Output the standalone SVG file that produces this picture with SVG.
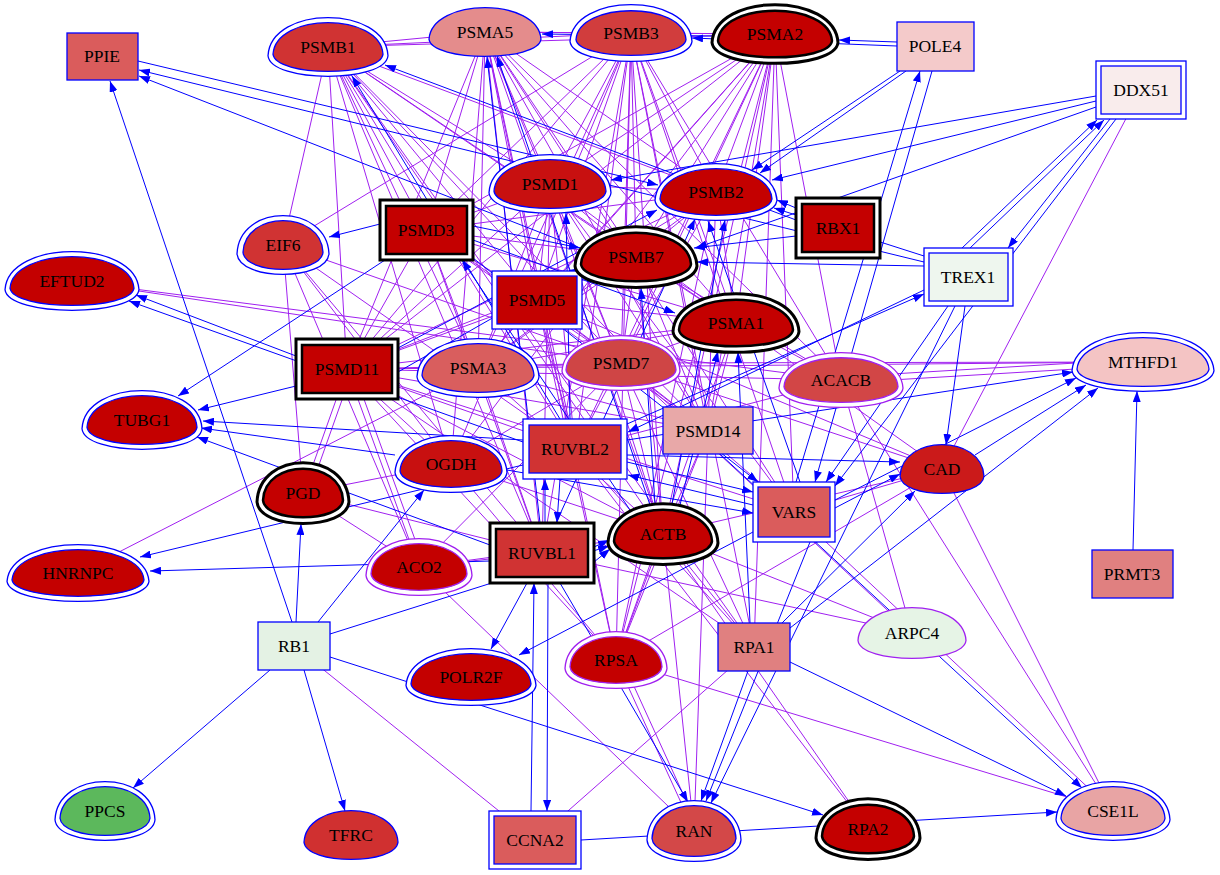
<svg xmlns="http://www.w3.org/2000/svg" xmlns:xlink="http://www.w3.org/1999/xlink" width="1220" height="875" viewBox="0 0 1220 875">
<style>
.e{stroke:#a020f0;stroke-width:1;fill:none}
.a{stroke:#0000ff;stroke-width:1;fill:none;marker-end:url(#arr)}
.ob{fill:#fff;stroke:#0000ff;stroke-width:1.3}
.ib{stroke:#0000ff;stroke-width:1.3}
.ok{fill:#fff;stroke:#000;stroke-width:3}
.ik{stroke:#000;stroke-width:2.5}
.op{fill:#fff;stroke:#a020f0;stroke-width:1.3}
.ip{stroke:#a020f0;stroke-width:1.3}
text{font-family:"Liberation Serif","Times New Roman",serif;font-size:17.5px;text-anchor:middle;fill:#000}
</style>
<defs>
<path id="egg" vector-effect="non-scaling-stroke" d="M-1,0.3C-0.95,-1.45 0.95,-1.45 1,0.3C0.95,1.25 -0.95,1.25 -1,0.3Z"/>
<marker id="arr" viewBox="0 0 11 8" refX="11" refY="4" markerWidth="11" markerHeight="8" markerUnits="userSpaceOnUse" orient="auto"><path d="M0,0L11,4L0,8Z" fill="#0000ff"/></marker>
</defs>
<rect width="1220" height="875" fill="#fff"/>
<g id="edges">
<path class="e" d="M736 323L775 34M736 323L478 368M736 323L485 32M736 323L328 47M736 323L716 192M736 323L631 33M736 323L636 257M736 323L550 184M736 323L426 230M736 323L537 300M736 323L621 363M736 323L347 369M736 323L708 431"/>
<path class="e" d="M775 34L478 368M775 34L485 32M775 34L328 47M775 34L716 192M775 34L631 33M775 34L636 257M775 34L550 184M775 34L426 230M775 34L537 300M775 34L621 363M775 34L347 369M775 34L708 431"/>
<path class="e" d="M478 368L485 32M478 368L328 47M478 368L716 192M478 368L631 33M478 368L636 257M478 368L550 184M478 368L426 230M478 368L537 300M478 368L621 363M478 368L347 369M478 368L708 431"/>
<path class="e" d="M485 32L328 47M485 32L716 192M485 32L631 33M485 32L636 257M485 32L550 184M485 32L426 230M485 32L537 300M485 32L621 363M485 32L347 369M485 32L708 431"/>
<path class="e" d="M328 47L716 192M328 47L631 33M328 47L636 257M328 47L550 184M328 47L426 230M328 47L537 300M328 47L621 363M328 47L347 369M328 47L708 431"/>
<path class="e" d="M716 192L631 33M716 192L636 257M716 192L550 184M716 192L426 230M716 192L537 300M716 192L621 363M716 192L347 369M716 192L708 431"/>
<path class="e" d="M631 33L636 257M631 33L550 184M631 33L426 230M631 33L537 300M631 33L621 363M631 33L347 369M631 33L708 431"/>
<path class="e" d="M636 257L550 184M636 257L426 230M636 257L537 300M636 257L621 363M636 257L347 369M636 257L708 431"/>
<path class="e" d="M550 184L426 230M550 184L537 300M550 184L621 363M550 184L347 369M550 184L708 431"/>
<path class="e" d="M426 230L537 300M426 230L621 363M426 230L347 369M426 230L708 431M537 300L621 363M537 300L347 369M537 300L708 431M621 363L347 369M621 363L708 431M347 369L708 431"/>
<path class="e" d="M283 245L328 47M283 245L631 33M283 245L303 493M283 245L451 464M283 245L419 567M283 245L542 553M283 245L575 449M283 245L621 363"/>
<path class="e" d="M72 281L621 363M72 281L841 380M78 573L478 368"/>
<path class="e" d="M303 493L347 369M309 493L353 369M303 493L451 464M303 493L419 567M303 493L542 553"/>
<path class="e" d="M451 464L485 32M451 464L328 47M451 464L631 33M451 464L775 34M451 464L347 369M451 464L621 363M451 464L663 534M451 464L616 660"/>
<path class="e" d="M419 567L347 369M425 567L353 369M419 567L542 553M419 567L663 534M419 567L694 831M419 567L621 363"/>
<path class="e" d="M841 380L631 33M841 380L775 34M841 380L485 32M841 380L347 369M841 380L736 323M841 380L1113 811M841 380L912 633M841 377L1143 359M841 383L1143 365M841 380L636 257M841 380L575 449"/>
<path class="e" d="M942 469L736 323M942 469L663 534M942 469L616 660M942 469L794 512M942 469L621 363M942 469L1141 90M942 469L1113 811M942 469L537 300"/>
<path class="e" d="M912 633L663 534M912 633L542 553M912 633L621 363"/>
<path class="e" d="M616 660L694 831M622 660L700 831M694 831L708 431M694 831L663 534M868 829L663 534M868 829L575 449M1113 811L616 660M1113 811L794 512M535 840L294 646M535 840L754 647"/>
<path class="e" d="M616 660L775 34M616 660L631 33M616 660L485 32M616 660L347 369M616 660L663 534M616 660L708 431M616 660L736 323M616 660L716 192M616 660L537 300"/>
<path class="e" d="M754 647L631 33M754 647L775 34M754 647L621 363M754 647L575 449M754 647L663 534M754 647L328 47M754 647L347 369"/>
<path class="e" d="M663 534L631 33M663 534L775 34M663 534L328 47M663 534L485 32M663 534L708 431M663 534L550 184M663 534L621 363M663 534L347 369M663 534L478 368M663 534L636 257"/>
<path class="e" d="M794 512L775 34M794 512L631 33M794 512L621 363M794 512L485 32M794 512L550 184M794 512L347 369"/>
<path class="e" d="M575 449L485 32M575 449L631 33M575 449L328 47M575 449L775 34M575 449L550 184M575 449L537 300M575 449L347 369M575 449L621 363"/>
<path class="e" d="M542 553L328 47M542 553L485 32M542 553L478 368M542 553L426 230M542 553L550 184M542 553L631 33M1143 362L347 369M1143 362L621 363"/>
<line class="a" x1="292" y1="622" x2="110" y2="81"/>
<line class="a" x1="924" y1="262" x2="139" y2="70"/>
<line class="a" x1="580" y1="248" x2="139" y2="76"/>
<line class="a" x1="138" y1="61" x2="658" y2="185"/>
<line class="a" x1="897" y1="42" x2="839" y2="40"/>
<line class="a" x1="897" y1="46" x2="692" y2="38"/>
<line class="a" x1="712" y1="36" x2="542" y2="34"/>
<line class="a" x1="900" y1="71" x2="752" y2="170"/>
<line class="a" x1="906" y1="71" x2="760" y2="173"/>
<line class="a" x1="1096" y1="101" x2="772" y2="180"/>
<line class="a" x1="1096" y1="96" x2="611" y2="180"/>
<line class="a" x1="1096" y1="107" x2="696" y2="248"/>
<line class="a" x1="962" y1="248" x2="1097" y2="120"/>
<line class="a" x1="970" y1="248" x2="1104" y2="120"/>
<line class="a" x1="1110" y1="119" x2="1008" y2="248"/>
<line class="a" x1="1116" y1="119" x2="835" y2="486"/>
<line class="a" x1="948" y1="306" x2="826" y2="482"/>
<line class="a" x1="796" y1="482" x2="920" y2="71"/>
<line class="a" x1="932" y1="71" x2="815" y2="482"/>
<line class="a" x1="924" y1="266" x2="697" y2="262"/>
<line class="a" x1="796" y1="236" x2="694" y2="248"/>
<line class="a" x1="924" y1="256" x2="774" y2="208"/>
<line class="a" x1="796" y1="208" x2="777" y2="200"/>
<line class="a" x1="924" y1="290" x2="628" y2="432"/>
<line class="a" x1="627" y1="424" x2="924" y2="294"/>
<line class="a" x1="965" y1="306" x2="946" y2="445"/>
<line class="a" x1="955" y1="306" x2="711" y2="803"/>
<line class="a" x1="810" y1="542" x2="706" y2="801"/>
<line class="a" x1="748" y1="671" x2="701" y2="801"/>
<line class="a" x1="800" y1="482" x2="708" y2="221"/>
<line class="a" x1="556" y1="523" x2="695" y2="219"/>
<line class="a" x1="672" y1="504" x2="725" y2="220"/>
<line class="a" x1="398" y1="348" x2="657" y2="210"/>
<line class="a" x1="560" y1="419" x2="352" y2="76"/>
<line class="a" x1="796" y1="220" x2="385" y2="65"/>
<line class="a" x1="380" y1="224" x2="329" y2="237"/>
<line class="a" x1="385" y1="260" x2="178" y2="396"/>
<line class="a" x1="296" y1="386" x2="198" y2="410"/>
<line class="a" x1="523" y1="440" x2="203" y2="421"/>
<line class="a" x1="395" y1="455" x2="201" y2="428"/>
<line class="a" x1="490" y1="545" x2="197" y2="437"/>
<line class="a" x1="296" y1="356" x2="136" y2="295"/>
<line class="a" x1="523" y1="442" x2="129" y2="301"/>
<line class="a" x1="490" y1="561" x2="150" y2="571"/>
<line class="a" x1="523" y1="465" x2="140" y2="557"/>
<line class="a" x1="296" y1="622" x2="301" y2="524"/>
<line class="a" x1="318" y1="622" x2="424" y2="490"/>
<line class="a" x1="270" y1="670" x2="133" y2="788"/>
<line class="a" x1="304" y1="670" x2="345" y2="811"/>
<line class="a" x1="330" y1="634" x2="609" y2="546"/>
<line class="a" x1="330" y1="657" x2="823" y2="815"/>
<line class="a" x1="527" y1="583" x2="491" y2="649"/>
<line class="a" x1="753" y1="532" x2="519" y2="655"/>
<line class="a" x1="548" y1="583" x2="547" y2="811"/>
<line class="a" x1="531" y1="811" x2="534" y2="583"/>
<line class="a" x1="545" y1="523" x2="545" y2="479"/>
<line class="a" x1="560" y1="479" x2="557" y2="523"/>
<line class="a" x1="594" y1="547" x2="609" y2="540"/>
<line class="a" x1="594" y1="562" x2="610" y2="549"/>
<line class="a" x1="581" y1="840" x2="1057" y2="812"/>
<line class="a" x1="790" y1="662" x2="1066" y2="796"/>
<line class="a" x1="720" y1="454" x2="1082" y2="788"/>
<line class="a" x1="782" y1="623" x2="915" y2="491"/>
<line class="a" x1="790" y1="628" x2="1098" y2="388"/>
<line class="a" x1="1133" y1="550" x2="1137" y2="391"/>
<line class="a" x1="975" y1="455" x2="1086" y2="385"/>
<line class="a" x1="627" y1="440" x2="1073" y2="372"/>
<line class="a" x1="835" y1="500" x2="1076" y2="378"/>
<line class="a" x1="627" y1="455" x2="900" y2="462"/>
<line class="a" x1="835" y1="508" x2="900" y2="474"/>
<line class="a" x1="627" y1="462" x2="753" y2="492"/>
<line class="a" x1="507" y1="470" x2="753" y2="513"/>
<line class="a" x1="473" y1="258" x2="758" y2="482"/>
<line class="a" x1="570" y1="419" x2="566" y2="213"/>
<line class="a" x1="540" y1="523" x2="487" y2="57"/>
<line class="a" x1="650" y1="505" x2="497" y2="56"/>
<line class="a" x1="680" y1="505" x2="718" y2="351"/>
<line class="a" x1="750" y1="623" x2="738" y2="352"/>
<line class="a" x1="473" y1="240" x2="675" y2="313"/>
<line class="a" x1="630" y1="510" x2="462" y2="260"/>
<line class="a" x1="398" y1="372" x2="580" y2="268"/>
<line class="a" x1="473" y1="226" x2="580" y2="248"/>
<line class="a" x1="655" y1="504" x2="641" y2="288"/>
<line class="a" x1="753" y1="505" x2="628" y2="475"/>
<line class="a" x1="560" y1="583" x2="688" y2="802"/>
</g>
<g id="n-PPIE"><rect class="ib" fill="#da5c5c" x="67" y="33" width="71" height="47"/><text x="102" y="62">PPIE</text></g>
<g id="n-POLE4"><rect class="ib" fill="#f4caca" x="897" y="22" width="77" height="49"/><text x="935" y="52">POLE4</text></g>
<g id="n-PSMD14"><rect class="ib" fill="#e8a8a8" x="663" y="407" width="90" height="47"/><text x="708" y="437">PSMD14</text></g>
<g id="n-PRMT3"><rect class="ib" fill="#e08080" x="1092" y="550" width="81" height="48"/><text x="1132" y="580">PRMT3</text></g>
<g id="n-RB1"><rect class="ib" fill="#e4f2e4" x="258" y="622" width="72" height="48"/><text x="294" y="652">RB1</text></g>
<g id="n-RPA1"><rect class="ib" fill="#e08080" x="718" y="623" width="72" height="48"/><text x="754" y="653">RPA1</text></g>
<g id="n-DDX51"><rect class="ob" x="1096" y="61" width="90" height="58"/><rect class="ib" fill="#f9ecec" x="1101" y="66" width="80" height="48"/><text x="1141" y="96">DDX51</text></g>
<g id="n-TREX1"><rect class="ob" x="924" y="248" width="89" height="58"/><rect class="ib" fill="#eef6ee" x="929" y="253" width="79" height="48"/><text x="968" y="283">TREX1</text></g>
<g id="n-PSMD5"><rect class="ob" x="492" y="271" width="90" height="58"/><rect class="ib" fill="#c40000" x="497" y="276" width="80" height="48"/><text x="537" y="306">PSMD5</text></g>
<g id="n-RUVBL2"><rect class="ob" x="523" y="419" width="104" height="60"/><rect class="ib" fill="#d03333" x="529" y="425" width="92" height="48"/><text x="575" y="455">RUVBL2</text></g>
<g id="n-VARS"><rect class="ob" x="753" y="482" width="82" height="60"/><rect class="ib" fill="#da5c5c" x="758" y="487" width="72" height="50"/><text x="794" y="518">VARS</text></g>
<g id="n-CCNA2"><rect class="ob" x="489" y="811" width="92" height="58"/><rect class="ib" fill="#da5c5c" x="494" y="816" width="82" height="48"/><text x="535" y="846">CCNA2</text></g>
<g id="n-PSMD3"><rect class="ok" x="380" y="200" width="93" height="60"/><rect class="ik" fill="#c40000" x="386" y="206" width="81" height="48"/><text x="426" y="236">PSMD3</text></g>
<g id="n-RBX1"><rect class="ok" x="796" y="198" width="84" height="60"/><rect class="ik" fill="#c40000" x="802" y="204" width="72" height="48"/><text x="838" y="234">RBX1</text></g>
<g id="n-PSMD11"><rect class="ok" x="296" y="339" width="102" height="60"/><rect class="ik" fill="#c40000" x="302" y="345" width="90" height="48"/><text x="347" y="375">PSMD11</text></g>
<g id="n-RUVBL1"><rect class="ok" x="490" y="523" width="104" height="60"/><rect class="ik" fill="#d03333" x="496" y="529" width="92" height="48"/><text x="542" y="559">RUVBL1</text></g>
<g id="n-PSMB1"><use href="#egg" class="ob" transform="translate(328 47) scale(60 29)"/><use href="#egg" class="ib" fill="#d03333" transform="translate(328 47) scale(55 24)"/><text x="328" y="53">PSMB1</text></g>
<g id="n-PSMB3"><use href="#egg" class="ob" transform="translate(631 33) scale(61 28)"/><use href="#egg" class="ib" fill="#d13d3d" transform="translate(631 33) scale(55 22)"/><text x="631" y="39">PSMB3</text></g>
<g id="n-PSMD1"><use href="#egg" class="ob" transform="translate(550 184) scale(61 29)"/><use href="#egg" class="ib" fill="#c81010" transform="translate(550 184) scale(56 24)"/><text x="550" y="190">PSMD1</text></g>
<g id="n-PSMB2"><use href="#egg" class="ob" transform="translate(716 192) scale(61 28)"/><use href="#egg" class="ib" fill="#c40000" transform="translate(716 192) scale(56 23)"/><text x="716" y="198">PSMB2</text></g>
<g id="n-EIF6"><use href="#egg" class="ob" transform="translate(283 245) scale(46 29)"/><use href="#egg" class="ib" fill="#d03333" transform="translate(283 245) scale(40 24)"/><text x="283" y="251">EIF6</text></g>
<g id="n-EFTUD2"><use href="#egg" class="ob" transform="translate(72 281) scale(67 29)"/><use href="#egg" class="ib" fill="#c40000" transform="translate(72 281) scale(62 24)"/><text x="72" y="287">EFTUD2</text></g>
<g id="n-PSMA3"><use href="#egg" class="ob" transform="translate(478 368) scale(61 29)"/><use href="#egg" class="ib" fill="#d95e5e" transform="translate(478 368) scale(56 24)"/><text x="478" y="374">PSMA3</text></g>
<g id="n-MTHFD1"><use href="#egg" class="ob" transform="translate(1143 362) scale(71 29)"/><use href="#egg" class="ib" fill="#f4c4c4" transform="translate(1143 362) scale(66 24)"/><text x="1143" y="368">MTHFD1</text></g>
<g id="n-TUBG1"><use href="#egg" class="ob" transform="translate(142 420) scale(60 29)"/><use href="#egg" class="ib" fill="#c40000" transform="translate(142 420) scale(55 24)"/><text x="142" y="426">TUBG1</text></g>
<g id="n-OGDH"><use href="#egg" class="ob" transform="translate(451 464) scale(56 28)"/><use href="#egg" class="ib" fill="#c81010" transform="translate(451 464) scale(51 23)"/><text x="451" y="470">OGDH</text></g>
<g id="n-HNRNPC"><use href="#egg" class="ob" transform="translate(78 573) scale(71 28)"/><use href="#egg" class="ib" fill="#c40000" transform="translate(78 573) scale(66 23)"/><text x="78" y="579">HNRNPC</text></g>
<g id="n-POLR2F"><use href="#egg" class="ob" transform="translate(471 677) scale(65 28)"/><use href="#egg" class="ib" fill="#c40000" transform="translate(471 677) scale(60 23)"/><text x="471" y="683">POLR2F</text></g>
<g id="n-PPCS"><use href="#egg" class="ob" transform="translate(105 811) scale(50 29)"/><use href="#egg" class="ib" fill="#5cb85c" transform="translate(105 811) scale(45 24)"/><text x="105" y="817">PPCS</text></g>
<g id="n-RAN"><use href="#egg" class="ob" transform="translate(694 831) scale(47 30)"/><use href="#egg" class="ib" fill="#d34848" transform="translate(694 831) scale(42 25)"/><text x="694" y="837">RAN</text></g>
<g id="n-CSE1L"><use href="#egg" class="ob" transform="translate(1113 811) scale(57 29)"/><use href="#egg" class="ib" fill="#e8a4a4" transform="translate(1113 811) scale(52 24)"/><text x="1113" y="817">CSE1L</text></g>
<g id="n-PSMA2"><use href="#egg" class="ok" transform="translate(775 34) scale(63 29)"/><use href="#egg" class="ik" fill="#c40000" transform="translate(775 34) scale(57 23)"/><text x="775" y="40">PSMA2</text></g>
<g id="n-PSMB7"><use href="#egg" class="ok" transform="translate(636 257) scale(61 30)"/><use href="#egg" class="ik" fill="#c40000" transform="translate(636 257) scale(55 24)"/><text x="636" y="263">PSMB7</text></g>
<g id="n-PSMA1"><use href="#egg" class="ok" transform="translate(736 323) scale(63 29)"/><use href="#egg" class="ik" fill="#c40000" transform="translate(736 323) scale(57 23)"/><text x="736" y="329">PSMA1</text></g>
<g id="n-PGD"><use href="#egg" class="ok" transform="translate(303 493) scale(46 30)"/><use href="#egg" class="ik" fill="#c40000" transform="translate(303 493) scale(40 24)"/><text x="303" y="499">PGD</text></g>
<g id="n-ACTB"><use href="#egg" class="ok" transform="translate(663 534) scale(55 30)"/><use href="#egg" class="ik" fill="#c40000" transform="translate(663 534) scale(49 24)"/><text x="663" y="540">ACTB</text></g>
<g id="n-RPA2"><use href="#egg" class="ok" transform="translate(868 829) scale(52 30)"/><use href="#egg" class="ik" fill="#c40000" transform="translate(868 829) scale(46 24)"/><text x="868" y="835">RPA2</text></g>
<g id="n-PSMD7"><use href="#egg" class="op" transform="translate(621 363) scale(59 27)"/><use href="#egg" class="ip" fill="#cf4545" transform="translate(621 363) scale(55 23)"/><text x="621" y="369">PSMD7</text></g>
<g id="n-ACACB"><use href="#egg" class="op" transform="translate(841 380) scale(62 27)"/><use href="#egg" class="ip" fill="#d24646" transform="translate(841 380) scale(57 22)"/><text x="841" y="386">ACACB</text></g>
<g id="n-ACO2"><use href="#egg" class="op" transform="translate(419 567) scale(53 28)"/><use href="#egg" class="ip" fill="#c40000" transform="translate(419 567) scale(48 23)"/><text x="419" y="573">ACO2</text></g>
<g id="n-RPSA"><use href="#egg" class="op" transform="translate(616 660) scale(51 28)"/><use href="#egg" class="ip" fill="#c40000" transform="translate(616 660) scale(46 23)"/><text x="616" y="666">RPSA</text></g>
<g id="n-PSMA5"><use href="#egg" class="ib" fill="#e48c8c" transform="translate(485 32) scale(56 24)"/><text x="485" y="38">PSMA5</text></g>
<g id="n-CAD"><use href="#egg" class="ib" fill="#cb1a1a" transform="translate(942 469) scale(42 24)"/><text x="942" y="475">CAD</text></g>
<g id="n-TFRC"><use href="#egg" class="ib" fill="#d03030" transform="translate(351 835) scale(47 24)"/><text x="351" y="841">TFRC</text></g>
<g id="n-ARPC4"><use href="#egg" class="ip" fill="#e6f4e6" transform="translate(912 633) scale(54 25)"/><text x="912" y="639">ARPC4</text></g>
</svg>
